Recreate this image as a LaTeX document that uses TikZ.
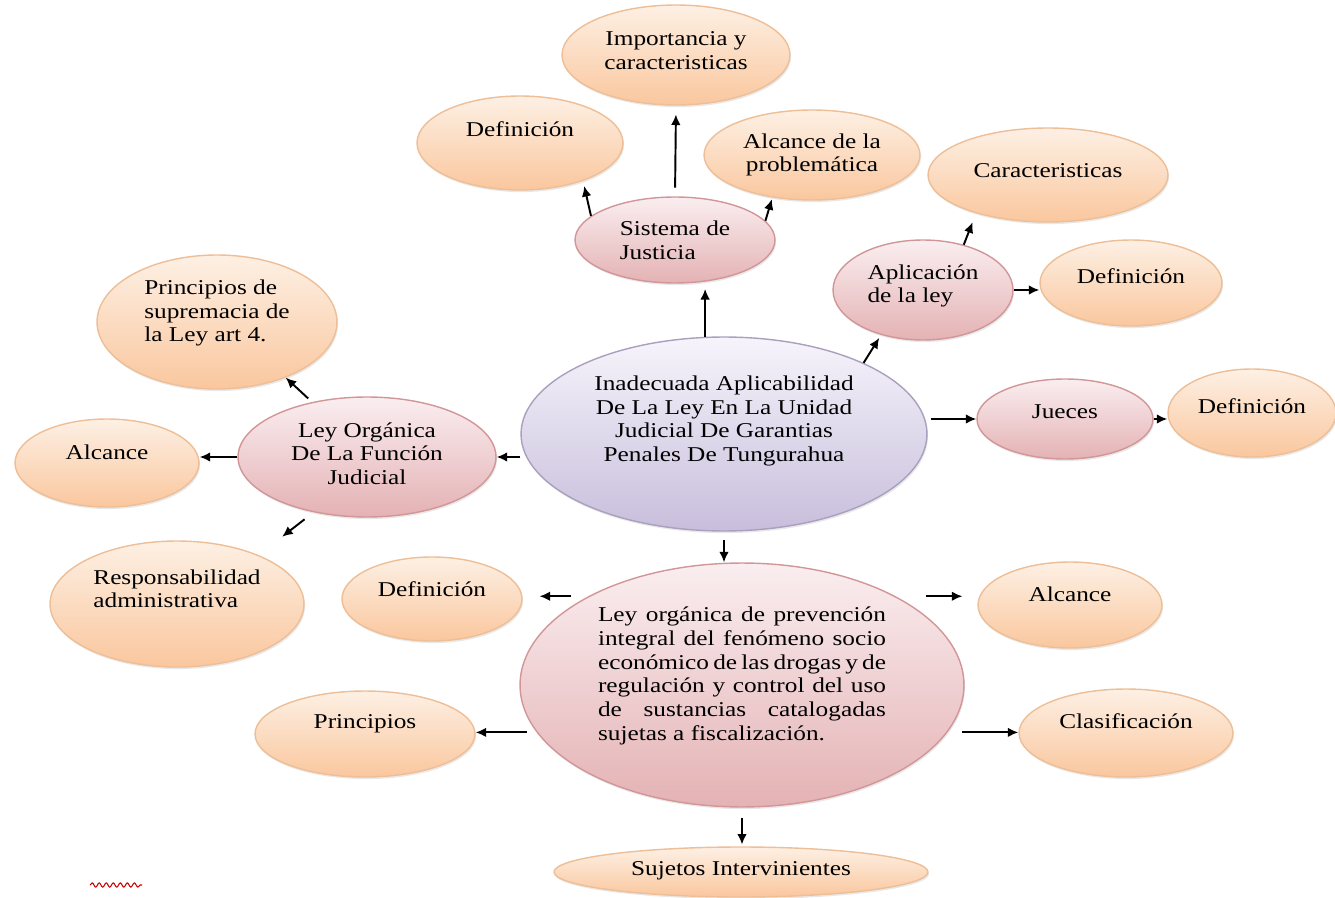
\documentclass[tikz,border=0pt]{standalone}
\usepackage{fontspec}
\setmainfont[FakeStretch=1.2]{Liberation Serif}
\usetikzlibrary{shapes.geometric,shadows,decorations.pathmorphing,arrows.meta}

\definecolor{peachtop}{RGB}{253,240,228}
\definecolor{peachbot}{RGB}{250,199,158}
\definecolor{peachline}{RGB}{238,190,150}
\definecolor{pinktop}{RGB}{250,238,240}
\definecolor{pinkbot}{RGB}{228,178,180}
\definecolor{pinkline}{RGB}{210,150,152}
\definecolor{lilatop}{RGB}{246,244,251}
\definecolor{lilabot}{RGB}{200,190,220}
\definecolor{lilaline}{RGB}{170,160,190}

\tikzset{
  burbuja/.style={ellipse, inner sep=0pt, line width=0.8pt, text=black,
    font=\fontsize{12pt}{13.5pt}\selectfont,
    drop shadow={opacity=0.18, shadow xshift=0.6pt, shadow yshift=-1.2pt}},
  hoja/.style={burbuja, draw=peachline, top color=peachtop, bottom color=peachbot},
  rama/.style={burbuja, draw=pinkline, top color=pinktop, bottom color=pinkbot},
  tema/.style={burbuja, draw=lilaline, top color=lilatop, bottom color=lilabot},
  flecha/.style={-{Latex[length=6pt, width=5.5pt]}, line width=1.1pt}
}

\begin{document}
\begin{tikzpicture}[x=0.02cm, y=-0.02cm]
\useasboundingbox (0,0) rectangle (1335,898);

\node[tema, minimum width=8.12cm, minimum height=3.88cm, align=center, text depth=17.4pt] (cen) at (724,434) {Inadecuada Aplicabilidad\\De La Ley En La Unidad\\Judicial De Garantias\\Penales De Tungurahua};

\node[rama, minimum width=4cm, minimum height=1.72cm, align=left] (sys) at (675,240) {Sistema de\\Justicia};
\node[hoja, minimum width=4.56cm, minimum height=2cm, align=center, text depth=4.9pt] (imp) at (676,55) {Importancia y\\caracteristicas};
\node[hoja, minimum width=4.12cm, minimum height=1.88cm, text depth=16.2pt] (def1) at (520,143) {Definición};
\node[hoja, minimum width=4.32cm, minimum height=1.8cm, align=center, text depth=2.6pt] (alp) at (812,155) {Alcance de la\\problemática};

\node[rama, minimum width=3.6cm, minimum height=2cm, align=left, text depth=7.2pt] (apl) at (923,290) {Aplicación\\de la ley};
\node[hoja, minimum width=4.8cm, minimum height=1.88cm, text depth=4.9pt] (car) at (1048,175) {Caracteristicas};
\node[hoja, minimum width=3.64cm, minimum height=1.72cm, text depth=8.3pt] (def2) at (1131,283) {Definición};

\node[rama, minimum width=3.52cm, minimum height=1.6cm, text depth=8.3pt] (jue) at (1065,419) {Jueces};
\node[hoja, minimum width=3.36cm, minimum height=1.76cm, text depth=8.3pt] (def3) at (1252,413) {Definición};

\node[rama, minimum width=5.16cm, minimum height=2.4cm, align=center, text depth=3.8pt] (lof) at (367,457) {Ley Orgánica\\De La Función\\Judicial};
\node[hoja, minimum width=4.8cm, minimum height=2.68cm, align=left, text depth=12.8pt] (sup) at (217,322) {Principios de\\supremacia de\\la Ley art 4.};
\node[hoja, minimum width=3.68cm, minimum height=1.76cm, text depth=12.8pt] (alc1) at (107,463) {Alcance};
\node[hoja, minimum width=5.08cm, minimum height=2.52cm, align=left, text depth=17.4pt] (res) at (177,604) {Responsabilidad\\administrativa};

\node[rama, minimum width=8.88cm, minimum height=4.88cm, align=left, text depth=12.8pt] (big) at (742,685) {\makebox[5.76cm][s]{Ley orgánica de prevención}\\\makebox[5.76cm][s]{integral del fenómeno socio}\\\makebox[5.76cm][s]{económico de las drogas y de}\\\makebox[5.76cm][s]{regulación y control del uso}\\\makebox[5.76cm][s]{de sustancias catalogadas}\\sujetas a fiscalización.};
\node[hoja, minimum width=3.6cm, minimum height=1.68cm, text depth=11.7pt] (def4) at (432,599) {Definición};
\node[hoja, minimum width=3.68cm, minimum height=1.72cm, text depth=12.8pt] (alc2) at (1070,605) {Alcance};
\node[hoja, minimum width=4.4cm, minimum height=1.72cm, text depth=14pt] (pri) at (365,734) {Principios};
\node[hoja, minimum width=4.28cm, minimum height=1.76cm, text depth=14pt] (cla) at (1126,733) {Clasificación};
\node[hoja, minimum width=7.48cm, minimum height=1cm, text depth=3.8pt] (suj) at (741,872) {Sujetos Intervinientes};

\draw[flecha, shorten >=3pt] (cen.101) -- (cen.101 |- sys.south);
\draw[flecha, shorten <=5pt, shorten >=5pt] (sys.north) -- (imp.south);
\draw[flecha, shorten >=3pt] (sys.164) -- (def1.-31);
\draw[flecha, shorten >=1pt] (sys.12) -- (alp.227);
\draw[flecha, shorten >=2pt] (cen.27) -- (apl.227);
\draw[flecha, shorten >=5.5pt] (apl.48) -- (car.208);
\draw[flecha] (apl.east) -- (apl.east -| def2.west);
\draw[flecha, shorten <=2pt] (cen.east |- jue.west) -- (jue.west);
\draw[flecha] (jue.east) -- (jue.east -| def3.west);
\draw[flecha] (cen.west |- lof.east) -- (lof.east);
\draw[flecha] (lof.west) -- (lof.west -| alc1.east);
\draw[flecha, shorten <=3pt] (lof.135) -- (sup.-39);
\draw[flecha, shorten <=6.5pt, shorten >=17pt] (lof.226) -- (res.31);
\draw[flecha, shorten <=5pt] (cen.south) -- (cen.south |- big.north);
\draw[flecha, shorten <=9.6pt, shorten >=9.6pt] (big.150) -- (big.150 -| def4.east);
\draw[flecha, shorten <=17pt, shorten >=8.5pt] (big.30) -- (big.30 -| alc2.west);
\draw[flecha, shorten <=5.7pt] (big.193) -- (big.193 -| pri.east);
\draw[flecha, shorten <=8.5pt] (big.-13) -- (big.-13 -| cla.west);
\draw[flecha, shorten <=6pt, shorten >=1pt] (big.south) -- (big.south |- suj.north);

\draw[red!80!black, line width=0.6pt, decorate, decoration={snake, amplitude=1.2pt, segment length=4pt}] (90,885) -- (142,885);

\end{tikzpicture}
\end{document}
